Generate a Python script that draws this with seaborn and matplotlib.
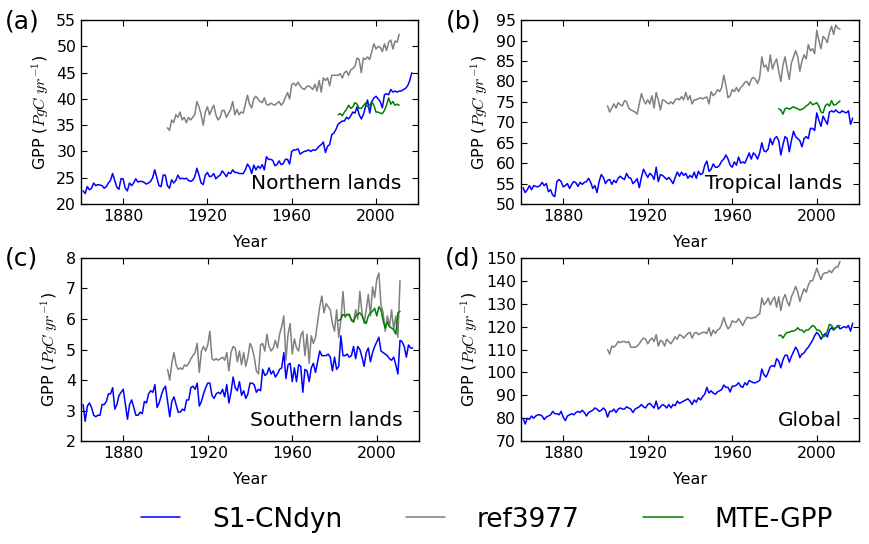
import numpy as np
import pandas as pd
import seaborn as sns
import matplotlib
matplotlib.use("Agg")
import matplotlib.pyplot as plt
from matplotlib.lines import Line2D

years_model = np.arange(1861, 2018)
years_ref = np.arange(1901, 2012)
years_mte = np.arange(1982, 2012)

# (a) Northern lands
north_s1 = [22.5, 22.0, 23.3, 22.7, 23.0, 24.0, 23.5, 23.7, 23.6, 23.5,
            23.0, 23.3, 24.0, 24.5, 25.8, 24.5, 23.2, 22.8, 24.8, 24.8,
            23.0, 22.5, 24.0, 23.5, 24.0, 24.8, 24.2, 24.3, 24.3, 24.1,
            23.8, 24.0, 24.3, 25.0, 26.5, 25.0, 23.5, 23.3, 25.5, 25.5,
            23.5, 23.0, 24.6, 24.0, 24.5, 25.5, 24.8, 24.9, 24.8, 24.9,
            24.5, 24.3, 24.5, 25.2, 26.8, 25.5, 24.0, 23.7, 25.5, 26.0,
            25.2, 25.3, 25.8, 24.8, 25.2, 25.5, 26.3, 25.8, 25.2, 26.0,
            25.8, 26.5, 26.0, 26.0, 25.8, 25.8, 25.8, 26.5, 27.6, 27.0,
            25.8, 27.4, 26.5, 27.2, 26.8, 27.5, 26.5, 29.0, 28.5, 28.5,
            28.3, 27.3, 27.5, 28.2, 27.5, 27.7, 28.5, 28.5, 27.6, 30.0,
            30.3, 30.3, 30.5, 29.5, 29.8, 30.0, 30.1, 30.3, 30.0, 30.3,
            30.2, 30.5, 31.0, 31.3, 31.8, 29.8, 31.0, 31.3, 33.2, 33.5,
            34.2, 35.2, 35.5, 35.8, 35.8, 36.5, 36.2, 36.8, 37.5, 37.3,
            38.5, 37.0, 36.2, 37.0, 38.5, 39.8, 37.3, 39.5, 40.2, 40.5,
            40.0, 39.5, 38.3, 40.8, 41.0, 40.8, 41.8, 41.3, 41.5, 41.3,
            41.5, 41.5, 41.8, 42.0, 42.5, 43.5, 45.0]
north_ref = [34.5, 34.0, 36.0, 35.5, 37.0, 36.5, 37.5, 36.0, 36.5, 35.5,
             36.5, 36.0, 36.5, 37.0, 39.5, 38.5, 37.0, 35.0, 37.5, 38.5,
             37.0, 38.0, 38.8, 37.0, 36.0, 36.5, 37.8, 37.8, 36.5, 37.3,
             38.0, 39.5, 37.0, 38.0, 37.0, 37.5, 37.3, 39.0, 40.7, 39.0,
             38.3, 40.0, 40.5, 40.0, 39.5, 39.3, 40.2, 39.0, 38.8, 39.2,
             39.0, 38.8, 39.2, 39.5, 38.8, 39.3, 40.3, 41.2, 40.0, 42.7,
             43.0, 42.5, 43.2, 42.5, 42.0, 41.8, 42.3, 42.5, 42.2, 41.8,
             42.8, 41.5, 43.5, 41.3, 44.0, 43.5, 44.0, 42.5, 44.5, 44.5,
             44.5, 44.5, 44.8, 44.0, 45.0, 45.3, 44.5, 45.5, 45.8, 46.2,
             47.8, 47.5, 45.0, 47.8, 47.5, 48.0, 47.5, 49.0, 50.5, 49.5,
             50.0, 49.8, 49.0, 50.5, 49.2, 50.8, 51.2, 49.5, 51.0, 50.8,
             52.3]
north_mte = [37.0, 37.2, 36.8, 37.5, 38.0, 38.8, 38.2, 38.5, 39.3, 39.0,
             38.2, 38.2, 38.7, 39.2, 38.5, 38.8, 39.5, 38.8, 37.5, 37.5,
             37.3, 37.2, 37.8, 38.8, 40.2, 39.0, 39.5, 38.8, 39.0, 38.8]

# (b) Tropical lands
trop_s1 = [54.0, 52.8, 53.5, 54.5, 53.5, 54.5, 54.3, 54.2, 54.5, 55.3,
           54.5, 55.0, 53.0, 53.5, 52.2, 51.8, 55.5, 56.0, 55.5, 54.2,
           54.5, 55.0, 53.8, 54.8, 55.5, 55.2, 54.3, 55.3, 54.8, 55.3,
           55.5, 56.3, 55.3, 53.8, 54.5, 52.8, 55.5, 57.2, 56.5, 55.0,
           55.8, 56.0, 54.8, 55.8, 55.2, 56.3, 56.8, 56.3, 56.0, 57.5,
           56.5, 56.3, 55.0, 55.5, 56.2, 54.0, 56.5, 58.5, 57.5, 56.5,
           57.5, 57.0, 56.0, 59.0, 55.5, 57.2, 57.0, 56.5, 56.0, 56.5,
           55.8, 55.0, 56.5, 57.8, 56.8, 57.8, 57.0, 57.5, 56.3, 57.0,
           56.5, 57.8, 56.3, 58.0, 57.2, 57.5, 59.5, 60.5, 58.0, 58.5,
           59.8, 59.0, 59.0, 59.5, 60.5, 61.0, 62.0, 61.0, 59.5, 59.0,
           60.3, 59.5, 61.5, 60.0, 60.3, 60.0, 61.2, 62.5, 61.0, 62.5,
           62.0, 61.0, 62.5, 65.0, 63.0, 62.8, 63.5, 66.0, 64.5, 66.0,
           66.5, 65.5, 62.0, 64.5, 66.5, 66.0, 62.8, 65.5, 67.8, 66.5,
           66.0, 65.5, 64.0, 66.0, 66.5, 66.0, 68.5, 68.5, 68.0, 72.3,
           70.5, 69.0, 71.5, 70.5, 69.5, 72.5, 72.8, 72.5, 73.0, 72.5,
           72.3, 72.8, 72.5, 72.3, 72.8, 69.5, 71.0]
trop_ref = [74.0, 72.5, 73.5, 74.5, 73.5, 74.8, 74.3, 74.0, 75.3, 75.0,
            73.5, 73.0, 72.8, 72.5, 72.0, 74.5, 77.0, 75.5, 74.5, 75.5,
            74.5, 76.5, 73.5, 77.3, 75.5, 73.0, 75.5, 75.3, 74.8, 74.5,
            75.0, 74.5, 75.5, 75.8, 75.5, 76.3, 75.5, 77.3, 75.5, 76.5,
            74.5, 75.5, 75.5, 75.8, 76.0, 75.7, 76.0, 76.2, 74.5, 77.5,
            76.5, 77.0, 78.0, 77.5, 78.5, 81.5, 79.0, 76.0, 76.5, 78.0,
            77.5, 78.5, 77.5, 78.5, 79.0, 79.8, 80.0, 79.0, 80.5, 81.0,
            80.5, 79.5, 81.0, 86.0, 83.5, 84.0, 82.5, 86.5, 83.0, 84.5,
            85.5, 82.5, 80.0, 84.0, 86.0, 83.0, 80.5, 84.5, 86.0, 87.5,
            86.0, 82.5, 85.0, 86.5, 85.5, 89.0, 87.5, 88.0, 86.8, 92.5,
            90.0, 88.0, 91.0, 90.5, 89.5, 92.0, 93.5, 91.5, 93.8, 93.0,
            92.8]
trop_mte = [73.3, 73.0, 72.0, 73.3, 73.5, 73.2, 73.5, 73.8, 73.5, 73.3,
            73.0, 73.2, 73.5, 74.0, 74.3, 75.0, 74.3, 74.5, 74.8, 74.0,
            72.5, 72.3, 74.0, 74.5, 74.0, 75.3, 74.2, 74.3, 74.8, 75.2]

# (c) Southern lands
south_s1 = [3.2, 2.65, 3.15, 3.25, 3.1, 2.85, 2.8, 2.85, 2.85, 3.2,
            3.2, 3.3, 3.55, 3.55, 3.75, 3.05, 3.2, 3.5, 3.6, 3.7,
            3.2, 2.72, 3.2, 3.35, 3.1, 2.85, 2.85, 2.95, 2.9, 3.3,
            3.25, 3.55, 3.65, 3.6, 3.85, 3.1, 3.25, 3.5, 3.7, 3.8,
            3.3, 2.8, 3.3, 3.45, 3.2, 2.95, 2.95, 3.05, 3.0, 3.35,
            3.35, 3.75, 3.8, 3.7, 3.9, 3.15, 3.3, 3.55, 3.75, 3.9,
            3.9, 3.5, 3.4, 3.55, 3.6, 3.55, 3.7, 3.45, 3.85, 3.25,
            3.6, 4.1, 3.75, 3.65, 3.95, 3.5, 3.65, 3.4, 3.55, 3.9,
            3.9, 3.85, 3.6, 3.7, 3.65, 4.35, 4.15, 4.2, 4.4, 4.2,
            4.3, 4.1, 4.2, 4.35, 4.4, 4.9, 4.05, 4.5, 4.55, 3.95,
            4.4, 3.95, 4.5, 4.45, 3.6, 4.35, 4.3, 3.95, 4.4, 4.55,
            4.25, 4.6, 4.95, 4.8, 4.8, 4.8, 4.85, 4.75, 4.3, 4.75,
            4.35, 4.45, 5.45, 4.8, 4.8, 4.85, 4.75, 4.8, 5.1, 4.7,
            5.1, 5.0, 4.75, 4.45, 4.9, 5.05, 4.6, 4.9, 5.1, 5.25,
            5.4, 4.95, 4.9, 4.85, 4.8, 4.7, 4.65, 4.75, 4.5, 4.2,
            5.3, 5.25, 5.1, 4.75, 5.15, 5.05, 5.05]
south_ref = [4.35, 4.0, 4.55, 4.9, 4.5, 4.35, 4.4, 4.35, 4.5, 4.45,
             4.55, 4.7, 4.8, 4.9, 5.2, 4.25, 4.95, 5.1, 4.95, 5.15,
             5.6, 4.7, 4.65, 4.7, 4.65, 4.7, 4.75, 4.65, 4.9, 4.3,
             4.9, 5.1, 5.05, 4.6, 4.95, 4.5, 4.9, 4.45, 4.75, 5.2,
             5.05, 4.75, 4.3, 4.2, 5.15, 5.2, 4.95, 5.5, 5.1, 4.95,
             5.05, 5.3, 5.05, 5.5, 5.75, 6.1, 4.65, 5.5, 5.85, 4.85,
             5.35, 5.05, 4.95, 5.45, 5.6, 4.8, 5.5, 4.55, 5.45, 5.2,
             5.4, 5.9, 6.4, 6.75, 6.2, 6.5, 6.4, 6.3, 5.85, 5.6,
             6.3, 5.4, 5.95, 6.9, 6.05, 6.15, 6.1, 6.0, 5.9, 6.3,
             6.0, 6.9, 6.2, 5.85, 6.3, 6.8, 6.1, 7.05, 6.7, 7.3,
             7.5, 6.45, 6.2, 5.6, 6.1, 5.75, 6.3, 5.65, 6.1, 5.4,
             7.25]
south_mte = [5.95, 6.0, 6.15, 6.1, 6.15, 6.15, 5.95, 5.9, 6.1, 6.15,
             6.2, 6.1, 5.95, 5.85, 6.1, 6.2, 6.25, 6.35, 6.1, 6.4,
             6.3, 5.95, 5.7, 5.9, 5.75, 5.7, 5.65, 5.5, 6.2, 6.25]

# (d) Global
glob_s1 = [80.0, 77.5, 80.0, 79.5, 81.0, 80.0, 81.0, 81.5, 81.5, 81.0,
           79.5, 80.5, 81.0, 81.5, 83.0, 82.0, 82.0, 81.5, 83.0, 80.5,
           79.0, 81.0, 81.5, 82.0, 81.5, 82.5, 83.0, 82.5, 83.5, 82.5,
           81.0, 82.5, 83.0, 83.5, 84.5, 84.0, 83.0, 83.5, 84.5, 83.5,
           80.5, 83.0, 83.0, 84.0, 82.5, 84.0, 84.5, 84.0, 84.0, 85.0,
           84.5, 84.0, 82.5, 84.0, 84.5, 85.0, 86.0, 85.0, 84.5, 86.0,
           86.5, 85.5, 84.5, 87.5, 84.0, 85.0, 86.0, 85.5, 84.5, 86.0,
           84.5, 86.0, 85.5, 87.5, 86.5, 87.0, 87.5, 88.0, 88.5, 87.5,
           86.0, 88.0, 87.0, 89.0, 88.0, 89.5, 90.5, 93.5, 91.0, 92.0,
           91.0, 90.5, 91.5, 92.0, 92.5, 94.5, 93.5, 93.5, 91.5, 94.0,
           94.0, 94.5, 95.5, 94.0, 93.5, 95.5, 94.5, 96.5, 96.0, 95.5,
           95.5, 96.0, 96.5, 101.5, 99.0, 98.0, 100.0, 102.5, 103.0, 102.5,
           106.0, 105.0, 102.0, 105.5, 107.5, 107.5, 104.5, 107.0, 109.0, 111.0,
           109.5, 106.5, 108.0, 108.5, 110.0, 111.0, 112.5, 114.0, 116.0, 117.5,
           116.5, 114.5, 116.0, 117.0, 115.5, 118.5, 119.5, 118.5, 119.5, 120.5,
           119.0, 119.5, 120.0, 119.5, 120.5, 118.0, 121.5]
glob_ref = [110.0, 108.0, 111.5, 111.0, 112.0, 113.5, 113.0, 113.5, 113.5, 113.0,
            113.5, 111.0, 111.0, 111.0, 111.5, 112.5, 114.0, 115.0, 114.5, 112.5,
            114.0, 115.0, 113.5, 116.5, 111.5, 114.0, 113.5, 111.5, 114.5, 113.5,
            112.5, 114.0, 115.5, 114.5, 116.5, 116.0, 115.0, 116.0, 117.0, 117.5,
            115.0, 117.0, 117.5, 116.5, 117.0, 117.5, 117.5, 117.0, 119.5, 116.0,
            118.5, 117.0, 118.5, 119.0, 121.0, 124.0, 121.0, 119.0, 120.0, 122.5,
            122.0, 122.0, 123.5, 122.0, 120.5, 122.5, 124.0, 124.0, 123.5, 124.0,
            124.0, 125.0, 125.5, 132.5, 129.5, 130.5, 132.5, 129.5, 131.5, 133.0,
            128.5, 133.0, 127.0, 132.0, 134.0, 131.0, 129.0, 133.0, 135.0, 137.5,
            135.0, 131.0, 134.0, 136.5, 135.0, 138.0, 140.0, 140.0, 142.5, 145.5,
            143.0, 140.5, 143.0, 143.5, 143.5, 144.5, 143.5, 145.0, 146.0, 146.0,
            148.5]
glob_mte = [116.0, 116.3, 115.0, 116.5, 117.5, 117.5, 118.0, 118.0, 118.5, 119.5,
            118.5, 118.5, 117.5, 118.5, 118.5, 119.5, 120.5, 120.0, 118.5, 118.5,
            117.5, 115.5, 116.0, 118.0, 121.0, 120.5, 119.0, 119.5, 120.0, 120.5]

series_names = ["S1-CNdyn", "ref3977", "MTE-GPP"]
series_colors = ["#0000ff", "#808080", "#008000"]

sns.set_style("ticks")
plt.rcParams["font.family"] = ["DejaVu Sans"]
plt.rcParams["mathtext.fontset"] = "cm"
plt.rcParams["xtick.direction"] = "in"
plt.rcParams["ytick.direction"] = "in"
for key in ["text.color", "axes.labelcolor", "xtick.color", "ytick.color", "axes.edgecolor"]:
    plt.rcParams[key] = "black"


def plot_panel(ax, s1, ref, mte, yticks, region):
    for yrs, vals, col in zip([years_model, years_ref, years_mte], [s1, ref, mte], series_colors):
        df = pd.DataFrame({"Year": yrs, "GPP": vals})
        sns.lineplot(data = df, x = "Year", y = "GPP", color = col, linewidth = 1.1, ax = ax, estimator = None)
    ax.set_xlim(1860, 2020)
    ax.set_ylim(yticks[0], yticks[-1])
    ax.set_xticks([1880, 1920, 1960, 2000])
    ax.set_yticks(yticks)
    ax.tick_params(top = True, right = True, labelsize = 11.3, length = 4, width = 0.8)
    for sp in ax.spines.values():
        sp.set_linewidth(1.0)
    ax.set_xlabel("Year", fontsize = 11.5, labelpad = 8)
    ax.set_ylabel(r"GPP ($PgC\ yr^{-1}$)", fontsize = 11.5)
    ax.text(0.95, 0.06, region, transform = ax.transAxes, ha = "right", va = "bottom", fontsize = 14.5)


fig = plt.figure(figsize = (8.69, 5.44), dpi = 100)
ax_a = fig.add_axes([0.0932, 0.625, 0.388, 0.338])
ax_b = fig.add_axes([0.5995, 0.625, 0.389, 0.338])
ax_c = fig.add_axes([0.0932, 0.189, 0.389, 0.337])
ax_d = fig.add_axes([0.5995, 0.189, 0.389, 0.337])

plot_panel(ax_a, north_s1, north_ref, north_mte, list(range(20, 56, 5)), "Northern lands")
plot_panel(ax_b, trop_s1, trop_ref, trop_mte, list(range(50, 96, 5)), "Tropical lands")
plot_panel(ax_c, south_s1, south_ref, south_mte, list(range(2, 9, 1)), "Southern lands")
plot_panel(ax_d, glob_s1, glob_ref, glob_mte, list(range(70, 151, 10)), "Global")

for tag, x, y in [("(a)", 0.006, 0.961), ("(b)", 0.513, 0.961), ("(c)", 0.006, 0.524), ("(d)", 0.512, 0.524)]:
    fig.text(x, y, tag, ha = "left", va = "center", fontsize = 18)

handles = [Line2D([], [], color = c, linewidth = 1.1) for c in series_colors]
fig.legend(handles, series_names, loc = "center", bbox_to_anchor = (0.56, 0.045), ncol = 3, frameon = False,
           fontsize = 19, handlelength = 1.5, handletextpad = 1.2, columnspacing = 2.4)

fig.savefig("out.png", dpi = 100)
